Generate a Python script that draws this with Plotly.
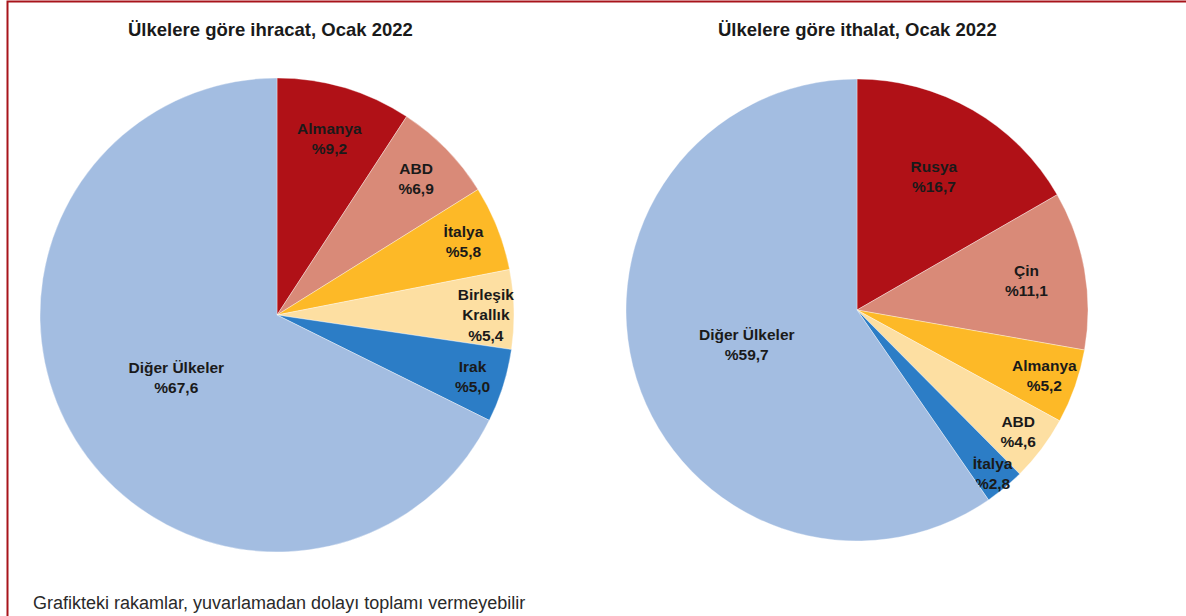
import plotly.graph_objects as go

W, H = 1186, 616

# --- data ---
exp_countries = ["Almanya", "ABD", "İtalya", "Birleşik<br>Krallık", "Irak", "Diğer Ülkeler"]
exp_values = [9.2, 6.9, 5.8, 5.4, 5.0, 67.6]
exp_colors = ["#B01117", "#D98A78", "#FDB927", "#FDDFA2", "#2C7DC6", "#A3BDE1"]

imp_countries = ["Rusya", "Çin", "Almanya", "ABD", "İtalya", "Diğer Ülkeler"]
imp_values = [16.7, 11.1, 5.2, 4.6, 2.8, 59.7]
imp_colors = ["#B01117", "#D98A78", "#FDB927", "#FDDFA2", "#2C7DC6", "#A3BDE1"]

titles = ["Ülkelere göre ihracat, Ocak 2022", "Ülkelere göre ithalat, Ocak 2022"]
footnote = "Grafikteki rakamlar, yuvarlamadan dolayı toplamı vermeyebilir"


def px(x):
    return x / W


def py(y):
    return 1 - y / H


def fmt(v):
    return "%" + f"{v:.1f}".replace(".", ",")


def labels(names, vals):
    return [f"<b>{n}<br>{fmt(v)}</b>" for n, v in zip(names, vals)]


FONT = "Liberation Sans, Arial, sans-serif"
LABEL_SIZE = 15.5

fig = go.Figure()

# left pie: center ~ (277, 315), r ~ 237
fig.add_trace(go.Pie(
    labels=exp_countries, values=exp_values,
    text=labels(exp_countries, exp_values), textinfo="text",
    textposition="inside", insidetextorientation="horizontal",
    sort=False, direction="clockwise", rotation=0,
    marker=dict(colors=exp_colors, line=dict(color="rgba(255,255,255,0.6)", width=0.6)),
    textfont=dict(family=FONT, size=LABEL_SIZE, color="#1a1a1a"),
    domain=dict(x=[px(40), px(514)], y=[py(552), py(78)]),
    showlegend=False, hoverinfo="label+value",
))

# right pie: center ~ (857, 310), r ~ 231
fig.add_trace(go.Pie(
    labels=imp_countries, values=imp_values,
    text=labels(imp_countries, imp_values), textinfo="text",
    textposition="inside", insidetextorientation="horizontal",
    sort=False, direction="clockwise", rotation=0,
    marker=dict(colors=imp_colors, line=dict(color="rgba(255,255,255,0.6)", width=0.6)),
    textfont=dict(family=FONT, size=LABEL_SIZE, color="#1a1a1a"),
    domain=dict(x=[px(626), px(1088)], y=[py(542), py(78)]),
    showlegend=False, hoverinfo="label+value",
))

annotations = [
    dict(text="<b>" + titles[0] + "</b>", x=px(270), y=py(30), xref="paper", yref="paper",
         showarrow=False, xanchor="center", yanchor="middle",
         font=dict(family=FONT, size=18.5, color="#1a1a1a")),
    dict(text="<b>" + titles[1] + "</b>", x=px(857), y=py(30), xref="paper", yref="paper",
         showarrow=False, xanchor="center", yanchor="middle",
         font=dict(family=FONT, size=18.5, color="#1a1a1a")),
    dict(text=footnote, x=px(31), y=py(603), xref="paper", yref="paper",
         showarrow=False, xanchor="left", yanchor="middle",
         font=dict(family=FONT, size=18, color="#2a2a2a")),
]

fig.update_layout(
    width=W, height=H,
    margin=dict(l=0, r=0, t=0, b=0),
    paper_bgcolor="white", plot_bgcolor="white",
    annotations=annotations,
    uniformtext=dict(minsize=LABEL_SIZE, mode="show"),
    shapes=[dict(type="rect", xref="paper", yref="paper",
                 x0=px(7.5), x1=1.05, y0=-0.05, y1=py(1.5),
                 line=dict(color="#A8141B", width=2), fillcolor="rgba(0,0,0,0)")],
)

# remove the default 8px page margin so the figure fills the window exactly
fig.write_html("out.html",
               config={"displayModeBar": False},
               post_script="document.body.style.margin='0';document.body.style.overflow='hidden';")
